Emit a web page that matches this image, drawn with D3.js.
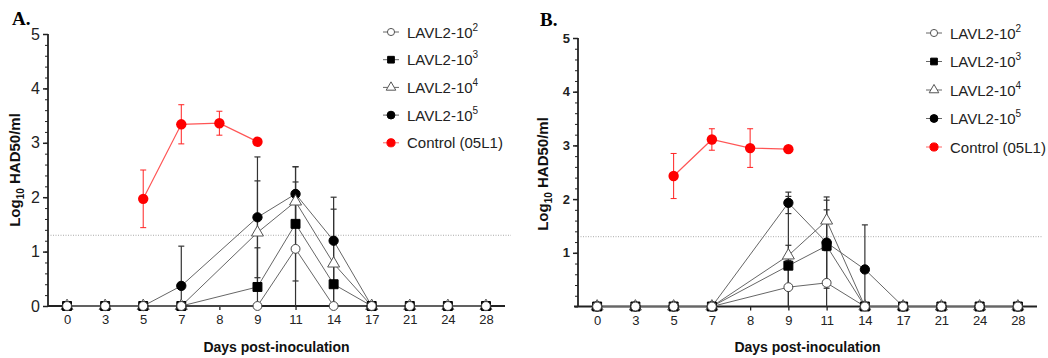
<!DOCTYPE html>
<html><head><meta charset="utf-8">
<script src="https://cdn.jsdelivr.net/npm/d3@7"></script>
<style>body{margin:0;background:#fff}svg{display:block}</style>
</head><body>
<script>
// ---- data ----
const xLabels = ["0","3","5","7","8","9","11","14","17","21","24","28"];
const lavlDays = ["0","3","5","7","9","11","14","17","21","24","28"];
const controlDays = ["5","7","8","9"];
const threshold = 1.3;
const legendBase = ["LAVL2-10","LAVL2-10","LAVL2-10","LAVL2-10","Control (05L1)"];
const legendExp = ["2","3","4","5",""];

// Panel A
const aL2 = [0,0,0,0,0,1.05,0,0,0,0,0];
const aL2err = [0,0,0,0,0,1.05,0,0,0,0,0];
const aL3 = [0,0,0,0,0.35,1.51,0.40,0,0,0,0];
const aL3err = [0,0,0,0,0.72,1.05,0.40,0,0,0,0];
const aL4 = [0,0,0,0,1.35,1.92,0.78,0,0,0,0];
const aL4err = [0,0,0,0,0.95,0.36,1.00,0,0,0,0];
const aL5 = [0,0,0,0.37,1.63,2.06,1.20,0,0,0,0];
const aL5err = [0,0,0,0.73,1.11,0.50,0.80,0,0,0,0];
const aCtl = [1.97,3.34,3.36,3.02];
const aCtlErr = [0.53,0.36,0.22,0];

// Panel B
const bL2 = [0,0,0,0,0.36,0.44,0,0,0,0,0];
const bL2err = [0,0,0,0,0.50,0.60,0,0,0,0,0];
const bL3 = [0,0,0,0,0.76,1.13,0,0,0,0,0];
const bL3err = [0,0,0,0,0.38,0.67,0,0,0,0,0];
const bL4 = [0,0,0,0,0.95,1.60,0,0,0,0,0];
const bL4err = [0,0,0,0,1.10,0.38,0,0,0,0,0];
const bL5 = [0,0,0,0,1.93,1.19,0.69,0,0,0,0];
const bL5err = [0,0,0,0,0.20,0.85,0.83,0,0,0,0];
const bCtl = [2.43,3.11,2.95,2.93];
const bCtlErr = [0.42,0.20,0.36,0];

const yTicksA = [0,1,2,3,4,5];
const yTicksB = [1,2,3,4,5];

const W = 1048, H = 358;
const svg = d3.select("body").append("svg").attr("width",W).attr("height",H);
const FONT = "Arial, 'Liberation Sans', sans-serif";

const styles = [
  {sym:d3.symbolCircle, size:68, fill:"#000", stroke:"#000"},          // 10^5
  {sym:d3.symbolTriangle, size:62, fill:"#fff", stroke:"#555"},        // 10^4
  {sym:d3.symbolSquare, size:80, fill:"#000", stroke:"#000"},          // 10^3
  {sym:d3.symbolCircle, size:62, fill:"#fff", stroke:"#444"}           // 10^2
];
const legendStyles = [
  {sym:d3.symbolCircle, size:40, fill:"#fff", stroke:"#555"},
  {sym:d3.symbolSquare, size:45, fill:"#000", stroke:"#000"},
  {sym:d3.symbolTriangle, size:40, fill:"#fff", stroke:"#555"},
  {sym:d3.symbolCircle, size:48, fill:"#000", stroke:"#000"},
  {sym:d3.symbolCircle, size:52, fill:"#f00", stroke:"#f00"}
];

function panel(cfg){
  const g = svg.append("g");
  const x = d3.scalePoint().domain(xLabels).range([cfg.left,cfg.right]).padding(0.5);
  const y = d3.scaleLinear().domain([0,5]).range([cfg.bottom,cfg.top]);

  // threshold
  g.append("line").attr("x1",cfg.left).attr("x2",cfg.right+6)
    .attr("y1",y(threshold)).attr("y2",y(threshold))
    .attr("stroke","#aaa").attr("stroke-width",1).attr("stroke-dasharray","1,1.5");

  // y minor ticks
  g.append("g").attr("transform",`translate(${cfg.left},0)`)
    .call(d3.axisLeft(y).tickValues(d3.range(0,5.001,0.2)).tickSize(3).tickFormat(""))
    .call(s=>{s.select(".domain").remove(); s.selectAll("line").attr("stroke","#222").attr("stroke-width",1);});
  // y major
  const ya = g.append("g").attr("transform",`translate(${cfg.left},0)`)
    .call(d3.axisLeft(y).tickValues(cfg.yTicks).tickSize(5).tickPadding(3).tickSizeOuter(0).tickFormat(d3.format("d")));
  ya.select(".domain").remove();
  ya.selectAll("line").attr("stroke","#222").attr("stroke-width",1.5);
  ya.selectAll("text").attr("font-family",FONT).attr("font-size",cfg.yFont).attr("font-weight",cfg.yWeight).attr("fill","#222");
  g.append("line").attr("x1",cfg.left).attr("x2",cfg.left).attr("y1",y(0)).attr("y2",y(5))
    .attr("stroke","#222").attr("stroke-width",1.8);

  // x axis
  const xa = g.append("g").attr("transform",`translate(0,${y(0)})`)
    .call(d3.axisBottom(x).tickSize(4).tickPadding(5).tickSizeOuter(0));
  xa.select(".domain").remove();
  xa.selectAll("line").attr("stroke","#222").attr("stroke-width",1.3);
  xa.selectAll("text").attr("font-family",FONT).attr("font-size",13).attr("fill","#222");
  g.append("line").attr("x1",cfg.left-cfg.xAxisExt).attr("x2",cfg.right).attr("y1",y(0)).attr("y2",y(0))
    .attr("stroke","#222").attr("stroke-width",1.8);

  // series
  const all = cfg.series.map((s,i)=>({vals:s[0], err:s[1], st:styles[i]}));

  function errBars(days, vals, errs, color, width){
    days.forEach((d,i)=>{
      const e = errs[i]; if(!e) return;
      const v = vals[i], top = v+e, bot = Math.max(0,v-e);
      const cx = x(d);
      g.append("line").attr("x1",cx).attr("x2",cx).attr("y1",y(bot)).attr("y2",y(top))
        .attr("stroke",color).attr("stroke-width",width);
      g.append("line").attr("x1",cx-3).attr("x2",cx+3).attr("y1",y(top)).attr("y2",y(top))
        .attr("stroke",color).attr("stroke-width",width);
      if(v-e>0) g.append("line").attr("x1",cx-3).attr("x2",cx+3).attr("y1",y(bot)).attr("y2",y(bot))
        .attr("stroke",color).attr("stroke-width",width);
    });
  }
  const line = d3.line().x(d=>x(d[0])).y(d=>y(d[1]));
  all.forEach(s=>errBars(lavlDays,s.vals,s.err,"#333",1.2));
  errBars(controlDays,cfg.ctl,cfg.ctlErr,"#f22",1);
  all.forEach(s=>{
    g.append("path").attr("d",line(lavlDays.map((d,i)=>[d,s.vals[i]])))
      .attr("fill","none").attr("stroke","#666").attr("stroke-width",1);
  });
  g.append("path").attr("d",line(controlDays.map((d,i)=>[d,cfg.ctl[i]])))
    .attr("fill","none").attr("stroke","#f55").attr("stroke-width",1.2);
  all.forEach(s=>{
    lavlDays.forEach((d,i)=>{
      g.append("path").attr("d",d3.symbol().type(s.st.sym).size(s.st.size)())
        .attr("transform",`translate(${x(d)},${y(s.vals[i])})`)
        .attr("fill",s.st.fill).attr("stroke",s.st.stroke).attr("stroke-width",1);
    });
  });
  controlDays.forEach((d,i)=>{
    g.append("circle").attr("cx",x(d)).attr("cy",y(cfg.ctl[i])).attr("r",5.2).attr("fill","#f00");
  });

  // axis titles
  const yt = g.append("text").attr("transform",`translate(${cfg.yTitleX},${cfg.yTitleY}) rotate(-90)`)
    .attr("text-anchor","middle").attr("font-family",FONT).attr("font-weight","bold").attr("font-size",15).attr("fill","#111");
  yt.append("tspan").text("Log");
  yt.append("tspan").attr("font-size",10).attr("dy",4).text("10");
  yt.append("tspan").attr("dy",-4).text(" HAD50/ml");
  g.append("text").attr("x",(cfg.left+cfg.right)/2).attr("y",352).attr("text-anchor","middle")
    .attr("font-family",FONT).attr("font-weight","bold").attr("font-size",14).attr("fill","#111")
    .text("Days post-inoculation");
  // panel letter
  g.append("text").attr("x",cfg.letterX).attr("y",cfg.letterY)
    .attr("font-family","'Times New Roman','Liberation Serif',serif").attr("font-weight","bold").attr("font-size",19)
    .text(cfg.letter);

  // legend
  legendBase.forEach((t,i)=>{
    const ly = cfg.legY + i*cfg.legStep;
    const col = i===4 ? "#f66" : "#666";
    g.append("line").attr("x1",cfg.legX-8).attr("x2",cfg.legX+8).attr("y1",ly).attr("y2",ly).attr("stroke",col).attr("stroke-width",1);
    const ls = legendStyles[i];
    g.append("path").attr("d",d3.symbol().type(ls.sym).size(ls.size)()).attr("transform",`translate(${cfg.legX},${ly})`)
      .attr("fill",ls.fill).attr("stroke",ls.stroke).attr("stroke-width",1);
    const tx = g.append("text").attr("x",cfg.legX+16).attr("y",ly+5.5).attr("font-family",FONT).attr("font-size",15).attr("fill","#222");
    tx.append("tspan").text(t);
    if(legendExp[i]) tx.append("tspan").attr("font-size",10).attr("dy",-7).text(legendExp[i]);
  });
}

panel({left:48,right:505,top:34,bottom:306,yTicks:yTicksA,yFont:16,yWeight:"normal",xAxisExt:0,
  series:[[aL5,aL5err],[aL4,aL4err],[aL3,aL3err],[aL2,aL2err]],ctl:aCtl,ctlErr:aCtlErr,
  yTitleX:20,yTitleY:170,letter:"A.",letterX:12,letterY:25,legX:391,legY:32,legStep:27.7});
panel({left:578,right:1037,top:38,bottom:306.5,yTicks:yTicksB,yFont:13,yWeight:"bold",xAxisExt:4,
  series:[[bL5,bL5err],[bL4,bL4err],[bL3,bL3err],[bL2,bL2err]],ctl:bCtl,ctlErr:bCtlErr,
  yTitleX:548,yTitleY:174,letter:"B.",letterX:540,letterY:26,legX:934,legY:33,legStep:28.5});
</script>
</body></html>
